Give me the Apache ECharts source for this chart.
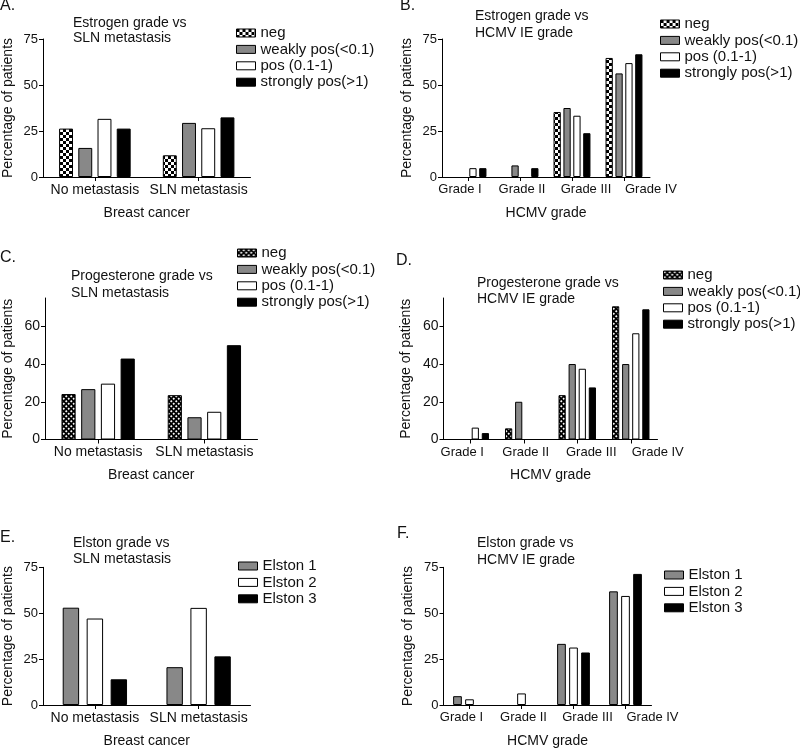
<!DOCTYPE html>
<html>
<head>
<meta charset="utf-8">
<script src="https://cdn.jsdelivr.net/npm/echarts@6/dist/echarts.min.js"></script>
<style>
html,body{margin:0;padding:0;background:#fff;}
#chart{width:800px;height:749px;}
</style>
</head>
<body>
<div id="chart"></div>
<script>
// ---------- data ----------
const catsSLN = ['No metastasis', 'SLN metastasis'];
const catsHCMV = ['Grade I', 'Grade II', 'Grade III', 'Grade IV'];
const hormoneNames = ['neg', 'weakly pos(<0.1)', 'pos (0.1-1)', 'strongly pos(>1)'];
const elstonNames = ['Elston 1', 'Elston 2', 'Elston 3'];

// A. Estrogen grade vs SLN metastasis
const estrSLN_neg = [26.3, 11.8];
const estrSLN_weak = [15.8, 29.4];
const estrSLN_pos = [31.6, 26.5];
const estrSLN_strong = [26.3, 32.4];
// B. Estrogen grade vs HCMV IE grade
const estrHCMV_neg = [0, 0, 35.3, 64.7];
const estrHCMV_weak = [0, 6.3, 37.5, 56.3];
const estrHCMV_pos = [4.8, 0, 33.3, 61.9];
const estrHCMV_strong = [4.8, 4.8, 23.8, 66.7];
// C. Progesterone grade vs SLN metastasis
const progSLN_neg = [24.1, 23.5];
const progSLN_weak = [26.7, 11.8];
const progSLN_pos = [29.6, 14.7];
const progSLN_strong = [42.9, 50.0];
// D. Progesterone grade vs HCMV IE grade
const progHCMV_neg = [0, 5.9, 23.5, 70.6];
const progHCMV_weak = [0, 20, 40, 40];
const progHCMV_pos = [6.3, 0, 37.5, 56.3];
const progHCMV_strong = [3.4, 0, 27.6, 69.0];
// E. Elston grade vs SLN metastasis
const elstSLN_1 = [53.0, 20.6];
const elstSLN_2 = [47.1, 52.9];
const elstSLN_3 = [14.0, 26.5];
// F. Elston grade vs HCMV IE grade
const elstHCMV_1 = [4.8, 0, 33.3, 61.9];
const elstHCMV_2 = [3.1, 6.3, 31.3, 59.4];
const elstHCMV_3 = [0, 0, 28.6, 71.4];

const ticks75 = [0, 25, 50, 75];
const ticks60 = [0, 20, 40, 60];

// ---------- styles ----------
const FONT = '"Liberation Sans", Arial, Helvetica, sans-serif';
const TXT = '#111';

function makeChecker() {
  const c = document.createElement('canvas');
  c.width = 6; c.height = 6;
  const g = c.getContext('2d');
  g.fillStyle = '#fff'; g.fillRect(0, 0, 6, 6);
  g.fillStyle = '#000'; g.fillRect(0, 0, 3, 3); g.fillRect(3, 3, 3, 3);
  return c;
}
function makeHatch() {
  const c = document.createElement('canvas');
  c.width = 5; c.height = 5;
  const g = c.getContext('2d');
  g.fillStyle = '#000'; g.fillRect(0, 0, 5, 5);
  g.fillStyle = '#fff';
  [[1.25, 1.25], [3.75, 3.75]].forEach(function (p) {
    g.beginPath();
    g.moveTo(p[0], p[1] - 1.25);
    g.lineTo(p[0] + 1.25, p[1]);
    g.lineTo(p[0], p[1] + 1.25);
    g.lineTo(p[0] - 1.25, p[1]);
    g.closePath(); g.fill();
  });
  return c;
}
const checker = { image: makeChecker(), repeat: 'repeat' };
const hatch = { image: makeHatch(), repeat: 'repeat' };

const sCheck = { color: checker, borderColor: '#000', borderWidth: 1 };
const sHatch = { color: hatch, borderColor: '#000', borderWidth: 1 };
const sGray = { color: '#888888', borderColor: '#000', borderWidth: 1 };
const sWhite = { color: '#ffffff', borderColor: '#000', borderWidth: 1 };
const sBlack = { color: '#000000', borderColor: '#000', borderWidth: 1 };

// ---------- panels ----------
const panels = [
  { label: 'A.', lx: 0, ly: -2,
    grid: { left: 41.5, top: 39, width: 209, height: 138 },
    title: 'Estrogen grade vs\nSLN metastasis', tx: 73, ty: 16, tlh: 15,
    cats: catsSLN, xname: 'Breast cancer', xfs: 14, grade: false,
    ymax: 75, yint: 25, yticks: ticks75, yfs: 13, ygap: 28,
    names: hormoneNames, styles: [sCheck, sGray, sWhite, sBlack],
    data: [estrSLN_neg, estrSLN_weak, estrSLN_pos, estrSLN_strong],
    catGap: '31%', barGap: '38%',
    legend: { left: 236, top: 25 } },
  { label: 'B.', lx: 400, ly: -2,
    grid: { left: 442, top: 39, width: 208, height: 138 },
    title: 'Estrogen grade vs\nHCMV IE grade', tx: 475, ty: 8, tlh: 16.5,
    cats: catsHCMV, xname: 'HCMV grade', xfs: 13, grade: true,
    ymax: 75, yint: 25, yticks: ticks75, yfs: 13, ygap: 28,
    names: hormoneNames, styles: [sCheck, sGray, sWhite, sBlack],
    data: [estrHCMV_neg, estrHCMV_weak, estrHCMV_pos, estrHCMV_strong],
    catGap: '29%', barGap: '36%',
    legend: { left: 660, top: 16 } },
  { label: 'C.', lx: 0, ly: 250,
    grid: { left: 43.5, top: 298, width: 214, height: 141.5 },
    title: 'Progesterone grade vs\nSLN metastasis', tx: 71, ty: 268, tlh: 16.5,
    cats: catsSLN, xname: 'Breast cancer', xfs: 14, grade: false,
    ymax: 75, yint: 20, yticks: ticks60, yfs: 14, ygap: 30,
    names: hormoneNames, styles: [sHatch, sGray, sWhite, sBlack],
    data: [progSLN_neg, progSLN_weak, progSLN_pos, progSLN_strong],
    catGap: '31%', barGap: '39%',
    legend: { left: 237, top: 245 } },
  { label: 'D.', lx: 396, ly: 253,
    grid: { left: 443.5, top: 298, width: 214, height: 141.5 },
    title: 'Progesterone grade vs\nHCMV IE grade', tx: 477, ty: 274.5, tlh: 16.5,
    cats: catsHCMV, xname: 'HCMV grade', xfs: 13, grade: true,
    ymax: 75, yint: 20, yticks: ticks60, yfs: 14, ygap: 30,
    names: hormoneNames, styles: [sHatch, sGray, sWhite, sBlack],
    data: [progHCMV_neg, progHCMV_weak, progHCMV_pos, progHCMV_strong],
    catGap: '30%', barGap: '40%',
    legend: { left: 663, top: 267 } },
  { label: 'E.', lx: 0, ly: 529.5,
    grid: { left: 42.5, top: 567.3, width: 208, height: 138.7 },
    title: 'Elston grade vs\nSLN metastasis', tx: 73, ty: 535, tlh: 16,
    cats: catsSLN, xname: 'Breast cancer', xfs: 14, grade: false,
    ymax: 75, yint: 25, yticks: ticks75, yfs: 13, ygap: 28,
    names: elstonNames, styles: [sGray, sWhite, sBlack],
    data: [elstSLN_1, elstSLN_2, elstSLN_3],
    catGap: '38%', barGap: '46%',
    legend: { left: 238, top: 558 } },
  { label: 'F.', lx: 397, ly: 526,
    grid: { left: 443.5, top: 567.3, width: 208, height: 138.5 },
    title: 'Elston grade vs\nHCMV IE grade', tx: 477, ty: 535, tlh: 16.5,
    cats: catsHCMV, xname: 'HCMV grade', xfs: 13, grade: true,
    ymax: 75, yint: 25, yticks: ticks75, yfs: 13, ygap: 28,
    names: elstonNames, styles: [sGray, sWhite, sBlack],
    data: [elstHCMV_1, elstHCMV_2, elstHCMV_3],
    catGap: '37%', barGap: '38%',
    legend: { left: 664, top: 567 } }
];

// label shift for Grade labels (as laid out in the original figure)
const gradeRich = {
  g0: { padding: [0, 16, 0, 0] },
  g1: { padding: [0, 0, 0, 4] },
  g2: { padding: [0, 0, 0, 28] },
  g3: { padding: [0, 0, 0, 54] }
};

const option = {
  animation: false,
  backgroundColor: '#fff',
  textStyle: { fontFamily: FONT },
  grid: [], xAxis: [], yAxis: [], series: [], legend: [], title: [],
  graphic: []
};

panels.forEach(function (p, i) {
  option.grid.push(Object.assign({ containLabel: false }, p.grid));
  const rich = {};
  Object.keys(gradeRich).forEach(function (k) {
    rich[k] = Object.assign({ fontSize: p.xfs, fontFamily: FONT, color: TXT }, gradeRich[k]);
  });
  option.xAxis.push({
    type: 'category', gridIndex: i, data: p.cats,
    axisLine: { show: true, lineStyle: { color: '#000', width: 1 } },
    axisTick: { show: true, alignWithLabel: true, length: 4, lineStyle: { color: '#000' } },
    axisLabel: {
      interval: 0, margin: 6, fontSize: p.xfs, color: TXT, fontFamily: FONT,
      formatter: p.grade ? function (v, idx) { return '{g' + idx + '|' + v + '}'; } : null,
      rich: p.grade ? rich : undefined
    },
    name: p.xname, nameLocation: 'middle', nameGap: 29,
    nameTextStyle: { fontSize: 14, color: TXT, fontFamily: FONT }
  });
  option.yAxis.push({
    type: 'value', gridIndex: i, min: 0, max: p.ymax, interval: p.yint,
    axisLine: { show: true, lineStyle: { color: '#000', width: 1 } },
    axisTick: { show: true, length: 4, lineStyle: { color: '#000' }, customValues: p.yticks },
    axisLabel: { fontSize: p.yfs, margin: 5, color: TXT, fontFamily: FONT, customValues: p.yticks },
    splitLine: { show: false },
    name: 'Percentage of patients', nameLocation: 'middle', nameGap: p.ygap,
    nameTextStyle: { fontSize: 14, color: TXT, fontFamily: FONT }
  });
  p.names.forEach(function (n, k) {
    option.series.push({
      type: 'bar', name: n, xAxisIndex: i, yAxisIndex: i,
      // zero-height bars get no outline so they leave no stray mark on the axis
      data: p.data[k].map(function (v) {
        return v === 0 ? { value: v, itemStyle: { borderWidth: 0 } } : v;
      }),
      itemStyle: p.styles[k],
      barCategoryGap: p.catGap, barGap: p.barGap,
      silent: true, emphasis: { disabled: true }
    });
  });
  option.legend.push({
    orient: 'vertical', left: p.legend.left, top: p.legend.top, padding: 0,
    itemWidth: 19, itemHeight: 8, itemGap: 0.4, icon: 'rect', selectedMode: false,
    textStyle: { fontSize: 15, lineHeight: 16, color: TXT, fontFamily: FONT },
    data: p.names.map(function (n, k) { return { name: n, itemStyle: p.styles[k] }; })
  });
  option.title.push({
    text: p.title, left: p.tx, top: p.ty, padding: 0,
    textStyle: { fontSize: 14, fontWeight: 'normal', lineHeight: p.tlh, color: TXT, fontFamily: FONT }
  });
  option.graphic.push({
    type: 'text', left: p.lx, top: p.ly,
    style: { text: p.label, fontSize: 16, fontFamily: FONT, fill: TXT }
  });
});

const chart = echarts.init(document.getElementById('chart'), null, { renderer: 'canvas' });
chart.setOption(option);
</script>
</body>
</html>
